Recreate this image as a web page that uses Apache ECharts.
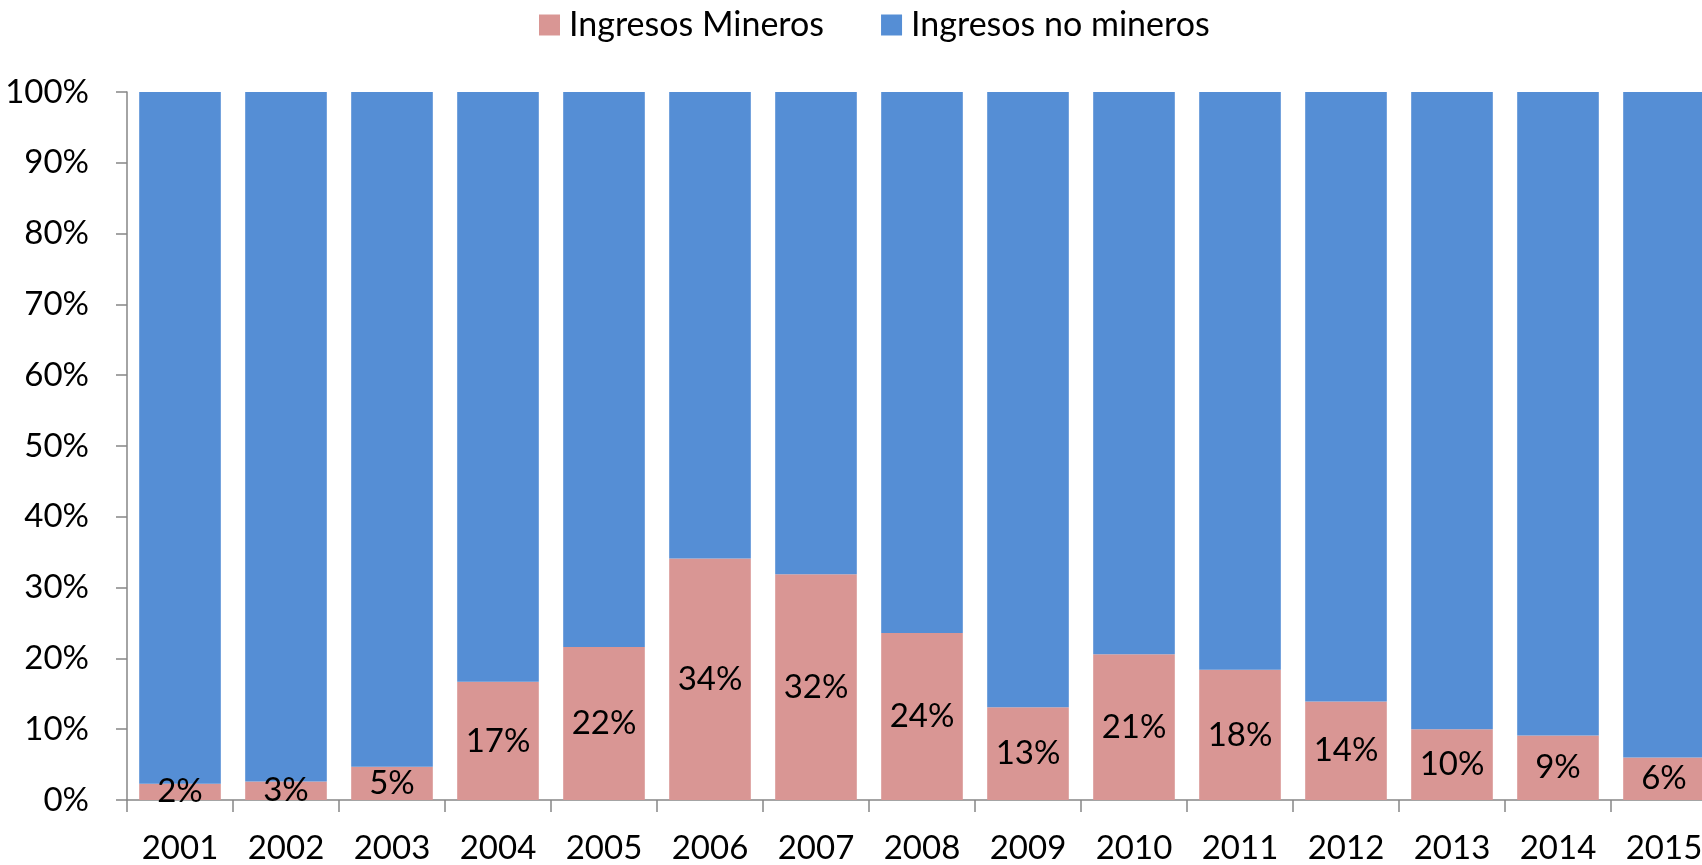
<!DOCTYPE html>
<html>
<head>
<meta charset="utf-8">
<script src="https://cdn.jsdelivr.net/npm/echarts@6/dist/echarts.min.js"></script>
<style>
html,body{margin:0;padding:0;background:#fff;overflow:hidden;width:1702px;height:865px;}
#chart{width:1717px;height:865px;}
</style>
</head>
<body>
<div id="chart"></div>
<script>
const categories = ['2001','2002','2003','2004','2005','2006','2007','2008','2009','2010','2011','2012','2013','2014','2015'];
const mineros = [2.3, 2.6, 4.7, 16.7, 21.6, 34.1, 31.9, 23.6, 13.1, 20.6, 18.4, 13.9, 10.0, 9.1, 6.0];
const noMineros = [97.7, 97.4, 95.3, 83.3, 78.4, 65.9, 68.1, 76.4, 86.9, 79.4, 81.6, 86.1, 90.0, 90.9, 94.0];
const yTicks = [0, 10, 20, 30, 40, 50, 60, 70, 80, 90, 100];

const FONT = 'Lato';
const chart = echarts.init(document.getElementById('chart'));
chart.setOption({
  animation: false,
  textStyle: {fontFamily: FONT},
  legend: {
    left: 534,
    top: 3,
    itemWidth: 21,
    itemHeight: 21,
    itemGap: 57,
    icon: 'rect',
    textStyle: {fontFamily: FONT, fontSize: 34, color: '#000', padding: [0, 0, 0, 4]},
    data: ['Ingresos Mineros', 'Ingresos no mineros']
  },
  grid: {left: 127, top: 92, bottom: 62, right: 0, containLabel: false},
  xAxis: {
    type: 'category',
    data: categories,
    axisLine: {lineStyle: {color: '#868686', width: 1.5}},
    axisTick: {show: true, length: 12, lineStyle: {color: '#868686', width: 1.5}},
    axisLabel: {fontFamily: FONT, fontSize: 33, color: '#000', margin: 32}
  },
  yAxis: {
    type: 'value',
    min: yTicks[0],
    max: yTicks[yTicks.length - 1],
    interval: 10,
    splitLine: {show: false},
    axisLine: {show: true, lineStyle: {color: '#868686', width: 1.5}},
    axisTick: {show: true, length: 11, lineStyle: {color: '#868686', width: 1.5}},
    axisLabel: {fontFamily: FONT, fontSize: 33, color: '#000', margin: 38, formatter: v => v + '%'}
  },
  series: [
    {
      name: 'Ingresos Mineros',
      type: 'bar',
      stack: 'total',
      barCategoryGap: '23%',
      data: mineros,
      itemStyle: {color: '#D99694'},
      label: {
        show: true,
        position: 'inside',
        fontFamily: FONT,
        fontSize: 33,
        color: '#000',
        formatter: p => Math.round(p.value) + '%'
      }
    },
    {
      name: 'Ingresos no mineros',
      type: 'bar',
      stack: 'total',
      barCategoryGap: '23%',
      data: noMineros,
      itemStyle: {color: '#558ED5'}
    }
  ]
});
</script>
</body>
</html>
